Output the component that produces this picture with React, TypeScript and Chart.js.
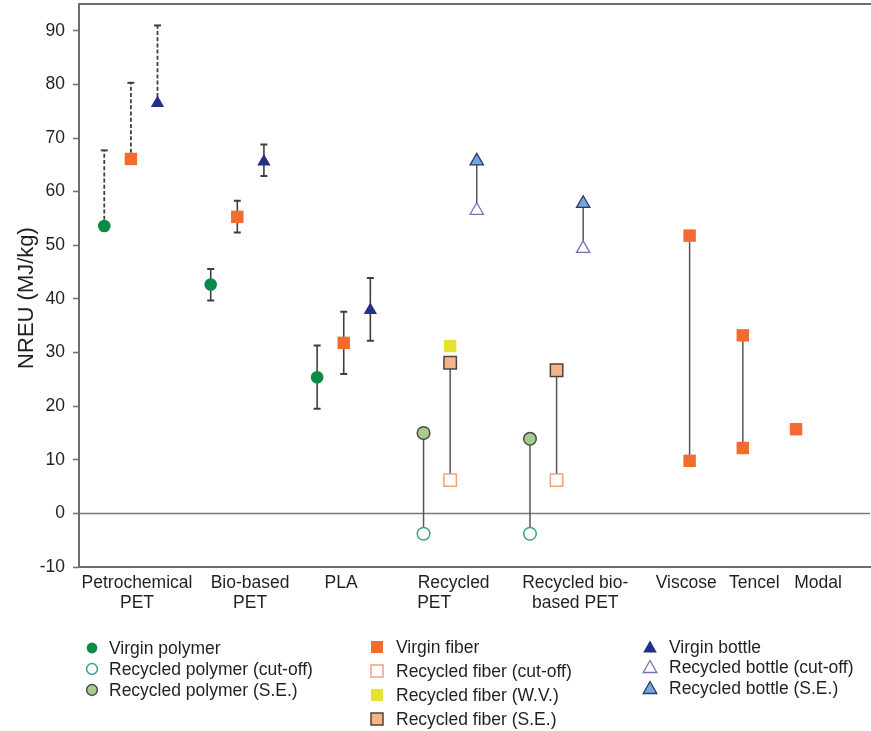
import React, { useEffect, useRef } from 'react';
import { Chart, registerables } from 'chart.js';

Chart.register(...registerables);

// ---------- DATA ----------
const yTicks = [-10, 0, 10, 20, 30, 40, 50, 60, 70, 80, 90];
const categoryPositions = [2.23, 6.48, 9.9, 14.13, 18.7, 22.87, 25.43, 27.83];
const categoryLabels: (string | string[])[] = [
  ['Petrochemical', 'PET'],
  ['Bio-based', 'PET'],
  'PLA',
  ['Recycled', 'PET        '],
  ['Recycled bio-', 'based PET'],
  'Viscose',
  'Tencel',
  'Modal',
];

const virginPolymerX = [1, 5, 9];
const virginPolymerY = [53.6, 42.7, 25.4];
const virginFiberX = [2, 6, 10, 23, 23, 25, 25, 27];
const virginFiberY = [66.1, 55.3, 31.8, 51.8, 9.8, 33.2, 12.2, 15.7];
const virginBottleX = [3, 7, 11];
const virginBottleY = [76.5, 65.6, 37.9];
const recPolymerCutX = [13, 17];
const recPolymerCutY = [-3.8, -3.8];
const recPolymerSEX = [13, 17];
const recPolymerSEY = [15.0, 13.9];
const recFiberCutX = [14, 18];
const recFiberCutY = [6.2, 6.2];
const recFiberWVX = [14];
const recFiberWVY = [31.2];
const recFiberSEX = [14, 18];
const recFiberSEY = [28.1, 26.7];
const recBottleCutX = [15, 19];
const recBottleCutY = [56.5, 49.4];
const recBottleSEX = [15, 19];
const recBottleSEY = [65.7, 57.8];

// error bars (uncertainty ranges)
const errX = [1, 2, 3, 5, 6, 7, 9, 10, 11];
const errLow = [53.6, 66.1, 76.5, 39.7, 52.4, 62.9, 19.5, 26.0, 32.2];
const errHigh = [67.7, 80.3, 91.0, 45.6, 58.3, 68.8, 31.3, 37.6, 43.9];
const errDashed = [true, true, true, false, false, false, false, false, false];

// connecting ranges
const rangeX = [13, 14, 15, 17, 18, 19, 23, 25];
const rangeLow = [-3.8, 6.2, 56.5, -3.8, 6.2, 49.4, 9.8, 12.2];
const rangeHigh = [15.0, 28.1, 65.7, 13.9, 26.7, 57.8, 51.8, 33.2];

const FONT = "'Liberation Sans', Arial, Helvetica, sans-serif";
const TEXT = '#231f20';

const pts = (xs: number[], ys: number[]) => xs.map((x, i) => ({ x, y: ys[i] }));

type Marker = { shape: 'circle' | 'rect' | 'triangle'; fill: string; stroke: string; sw: number };
const mk = {
  vp: { shape: 'circle', fill: '#0b8a47', stroke: '#0b8a47', sw: 0 } as Marker,
  rpc: { shape: 'circle', fill: '#ffffff', stroke: '#36a47c', sw: 1.5 } as Marker,
  rps: { shape: 'circle', fill: '#a8cd8b', stroke: '#4a4a4a', sw: 1.5 } as Marker,
  vf: { shape: 'rect', fill: '#f36b2e', stroke: '#f36b2e', sw: 0 } as Marker,
  rfc: { shape: 'rect', fill: '#ffffff', stroke: '#f2a080', sw: 1.5 } as Marker,
  rfw: { shape: 'rect', fill: '#e6e230', stroke: '#e6e230', sw: 0 } as Marker,
  rfs: { shape: 'rect', fill: '#f6b386', stroke: '#4d4242', sw: 1.5 } as Marker,
  vb: { shape: 'triangle', fill: '#223089', stroke: '#223089', sw: 0 } as Marker,
  rbc: { shape: 'triangle', fill: '#ffffff', stroke: '#7373b3', sw: 1.3 } as Marker,
  rbs: { shape: 'triangle', fill: '#78a5d8', stroke: '#2b3a66', sw: 1.3 } as Marker,
};

const radiusFor = (s: string) => (s === 'circle' ? 6.3 : s === 'rect' ? 8.8 : 7.7);

const ds = (label: string, xs: number[], ys: number[], m: Marker) => ({
  label,
  data: pts(xs, ys),
  pointStyle: m.shape,
  pointRadius: radiusFor(m.shape),
  pointHoverRadius: radiusFor(m.shape),
  backgroundColor: m.fill,
  borderColor: m.stroke,
  borderWidth: m.sw,
  pointBorderWidth: m.sw,
  showLine: false,
});

const extrasPlugin = {
  id: 'extras',
  beforeDatasetsDraw(chart: any) {
    const { ctx, chartArea: a, scales } = chart;
    const x = scales.x;
    const y = scales.y;
    ctx.save();
    // zero line
    const y0 = y.getPixelForValue(0);
    ctx.strokeStyle = '#7a7a7a';
    ctx.lineWidth = 1.5;
    ctx.beginPath();
    ctx.moveTo(a.left, y0);
    ctx.lineTo(a.right, y0);
    ctx.stroke();
    // frame
    ctx.strokeStyle = '#6e6e6e';
    ctx.lineWidth = 2;
    ctx.beginPath();
    ctx.moveTo(a.right + 2, a.top);
    ctx.lineTo(a.left, a.top);
    ctx.lineTo(a.left, a.bottom);
    ctx.lineTo(a.right + 2, a.bottom);
    ctx.stroke();
    // connecting ranges
    ctx.strokeStyle = '#555555';
    ctx.lineWidth = 1.5;
    rangeX.forEach((xv, i) => {
      const px = x.getPixelForValue(xv);
      ctx.beginPath();
      ctx.moveTo(px, y.getPixelForValue(rangeLow[i]));
      ctx.lineTo(px, y.getPixelForValue(rangeHigh[i]));
      ctx.stroke();
    });
    // error bars
    ctx.strokeStyle = '#3f3f3f';
    errX.forEach((xv, i) => {
      const px = x.getPixelForValue(xv);
      const lo = y.getPixelForValue(errLow[i]);
      const hi = y.getPixelForValue(errHigh[i]);
      ctx.lineWidth = errDashed[i] ? 1.8 : 1.6;
      ctx.setLineDash(errDashed[i] ? [4, 2.2] : []);
      ctx.beginPath();
      ctx.moveTo(px, lo);
      ctx.lineTo(px, hi);
      ctx.stroke();
      ctx.setLineDash([]);
      ctx.lineWidth = 2;
      ctx.beginPath();
      ctx.moveTo(px - 3.5, hi);
      ctx.lineTo(px + 3.5, hi);
      if (!errDashed[i]) {
        ctx.moveTo(px - 3.5, lo);
        ctx.lineTo(px + 3.5, lo);
      }
      ctx.stroke();
    });
    ctx.restore();
  },
  afterDraw(chart: any) {
    const { ctx } = chart;
    ctx.save();
    ctx.translate(27, 298);
    ctx.rotate(-Math.PI / 2);
    ctx.font = `22px ${FONT}`;
    ctx.fillStyle = TEXT;
    ctx.textAlign = 'center';
    ctx.textBaseline = 'middle';
    ctx.fillText('NREU (MJ/kg)', 0, 0);
    ctx.restore();
  },
};

const legendCols = [
  { mx: 92, tx: 109, rows: [648, 669, 690] },
  { mx: 377, tx: 396, rows: [647, 671, 695, 719] },
  { mx: 650, tx: 669, rows: [647, 667, 688] },
];
const legendGroups: { label: string; m: Marker }[][] = [
  [
    { label: 'Virgin polymer', m: mk.vp },
    { label: 'Recycled polymer (cut-off)', m: mk.rpc },
    { label: 'Recycled polymer (S.E.)', m: mk.rps },
  ],
  [
    { label: 'Virgin fiber', m: mk.vf },
    { label: 'Recycled fiber (cut-off)', m: mk.rfc },
    { label: 'Recycled fiber (W.V.)', m: mk.rfw },
    { label: 'Recycled fiber (S.E.)', m: mk.rfs },
  ],
  [
    { label: 'Virgin bottle', m: mk.vb },
    { label: 'Recycled bottle (cut-off)', m: mk.rbc },
    { label: 'Recycled bottle (S.E.)', m: mk.rbs },
  ],
];

function MarkerSvg({ m }: { m: Marker }) {
  const sw = m.sw || 0;
  const stroke = m.sw ? m.stroke : 'none';
  let shape: React.ReactNode;
  if (m.shape === 'circle') shape = <circle cx={8} cy={8} r={5.4} fill={m.fill} stroke={stroke} strokeWidth={sw} />;
  else if (m.shape === 'rect') shape = <rect x={2} y={2} width={12} height={12} fill={m.fill} stroke={stroke} strokeWidth={sw} />;
  else shape = <polygon points="8,1.5 14.8,13.5 1.2,13.5" fill={m.fill} stroke={stroke} strokeWidth={sw} />;
  return (
    <svg width={16} height={16} style={{ position: 'absolute', left: -8, top: -8 }}>
      {shape}
    </svg>
  );
}

export default function App() {
  const ref = useRef<HTMLCanvasElement>(null);
  useEffect(() => {
    if (!ref.current) return;
    Chart.defaults.font.family = FONT;
    Chart.defaults.color = TEXT;
    const chart = new Chart(ref.current, {
      type: 'scatter',
      data: {
        datasets: [
          ds('Virgin polymer', virginPolymerX, virginPolymerY, mk.vp),
          ds('Recycled polymer (cut-off)', recPolymerCutX, recPolymerCutY, mk.rpc),
          ds('Recycled polymer (S.E.)', recPolymerSEX, recPolymerSEY, mk.rps),
          ds('Virgin fiber', virginFiberX, virginFiberY, mk.vf),
          ds('Recycled fiber (cut-off)', recFiberCutX, recFiberCutY, mk.rfc),
          ds('Recycled fiber (W.V.)', recFiberWVX, recFiberWVY, mk.rfw),
          ds('Recycled fiber (S.E.)', recFiberSEX, recFiberSEY, mk.rfs),
          ds('Virgin bottle', virginBottleX, virginBottleY, mk.vb),
          ds('Recycled bottle (cut-off)', recBottleCutX, recBottleCutY, mk.rbc),
          ds('Recycled bottle (S.E.)', recBottleSEX, recBottleSEY, mk.rbs),
        ] as any,
      },
      options: {
        animation: false,
        responsive: false,
        layout: { autoPadding: false, padding: { top: 4, right: 1, bottom: 104, left: 0 } },
        plugins: { legend: { display: false }, tooltip: { enabled: false } },
        scales: {
          x: {
            type: 'linear',
            min: 0.05,
            max: 29.78,
            grid: { display: false, drawTicks: false },
            border: { display: false },
            afterBuildTicks: (s: any) => {
              s.ticks = categoryPositions.map((v) => ({ value: v }));
            },
            afterFit: (s: any) => {
              s.height = 60;
              s.paddingLeft = 0;
              s.paddingRight = 0;
            },
            ticks: {
              autoSkip: false,
              maxRotation: 0,
              minRotation: 0,
              padding: 6,
              color: TEXT,
              font: { size: 17.5, lineHeight: 1.15 },
              callback: (_v: any, i: number) => categoryLabels[i],
            },
          },
          y: {
            type: 'linear',
            min: -10,
            max: 95,
            grid: { drawOnChartArea: false, drawTicks: true, tickLength: 6, tickColor: '#6e6e6e', tickWidth: 1.5 },
            border: { display: false },
            afterBuildTicks: (s: any) => {
              s.ticks = yTicks.map((v) => ({ value: v }));
            },
            afterFit: (s: any) => {
              s.width = 79;
              s.paddingTop = 0;
              s.paddingBottom = 0;
            },
            ticks: { padding: 8, color: TEXT, font: { size: 17.5 } },
          },
        },
      },
      plugins: [extrasPlugin],
    } as any);
    return () => chart.destroy();
  }, []);

  return (
    <div style={{ position: 'absolute', left: 0, top: 0, width: 871, height: 731, background: '#fff' }}>
      <canvas ref={ref} width={871} height={731} style={{ display: 'block' }} />
      {legendGroups.map((g, ci) =>
        g.map((item, ri) => {
          const col = legendCols[ci];
          const cy = col.rows[ri];
          return (
            <React.Fragment key={`${ci}-${ri}`}>
              <div style={{ position: 'absolute', left: col.mx, top: cy, width: 0, height: 0 }}>
                <MarkerSvg m={item.m} />
              </div>
              <div
                style={{
                  position: 'absolute',
                  left: col.tx,
                  top: cy - 11,
                  height: 22,
                  lineHeight: '22px',
                  fontSize: 17.5,
                  fontFamily: FONT,
                  color: TEXT,
                  whiteSpace: 'nowrap',
                }}
              >
                {item.label}
              </div>
            </React.Fragment>
          );
        })
      )}
    </div>
  );
}
